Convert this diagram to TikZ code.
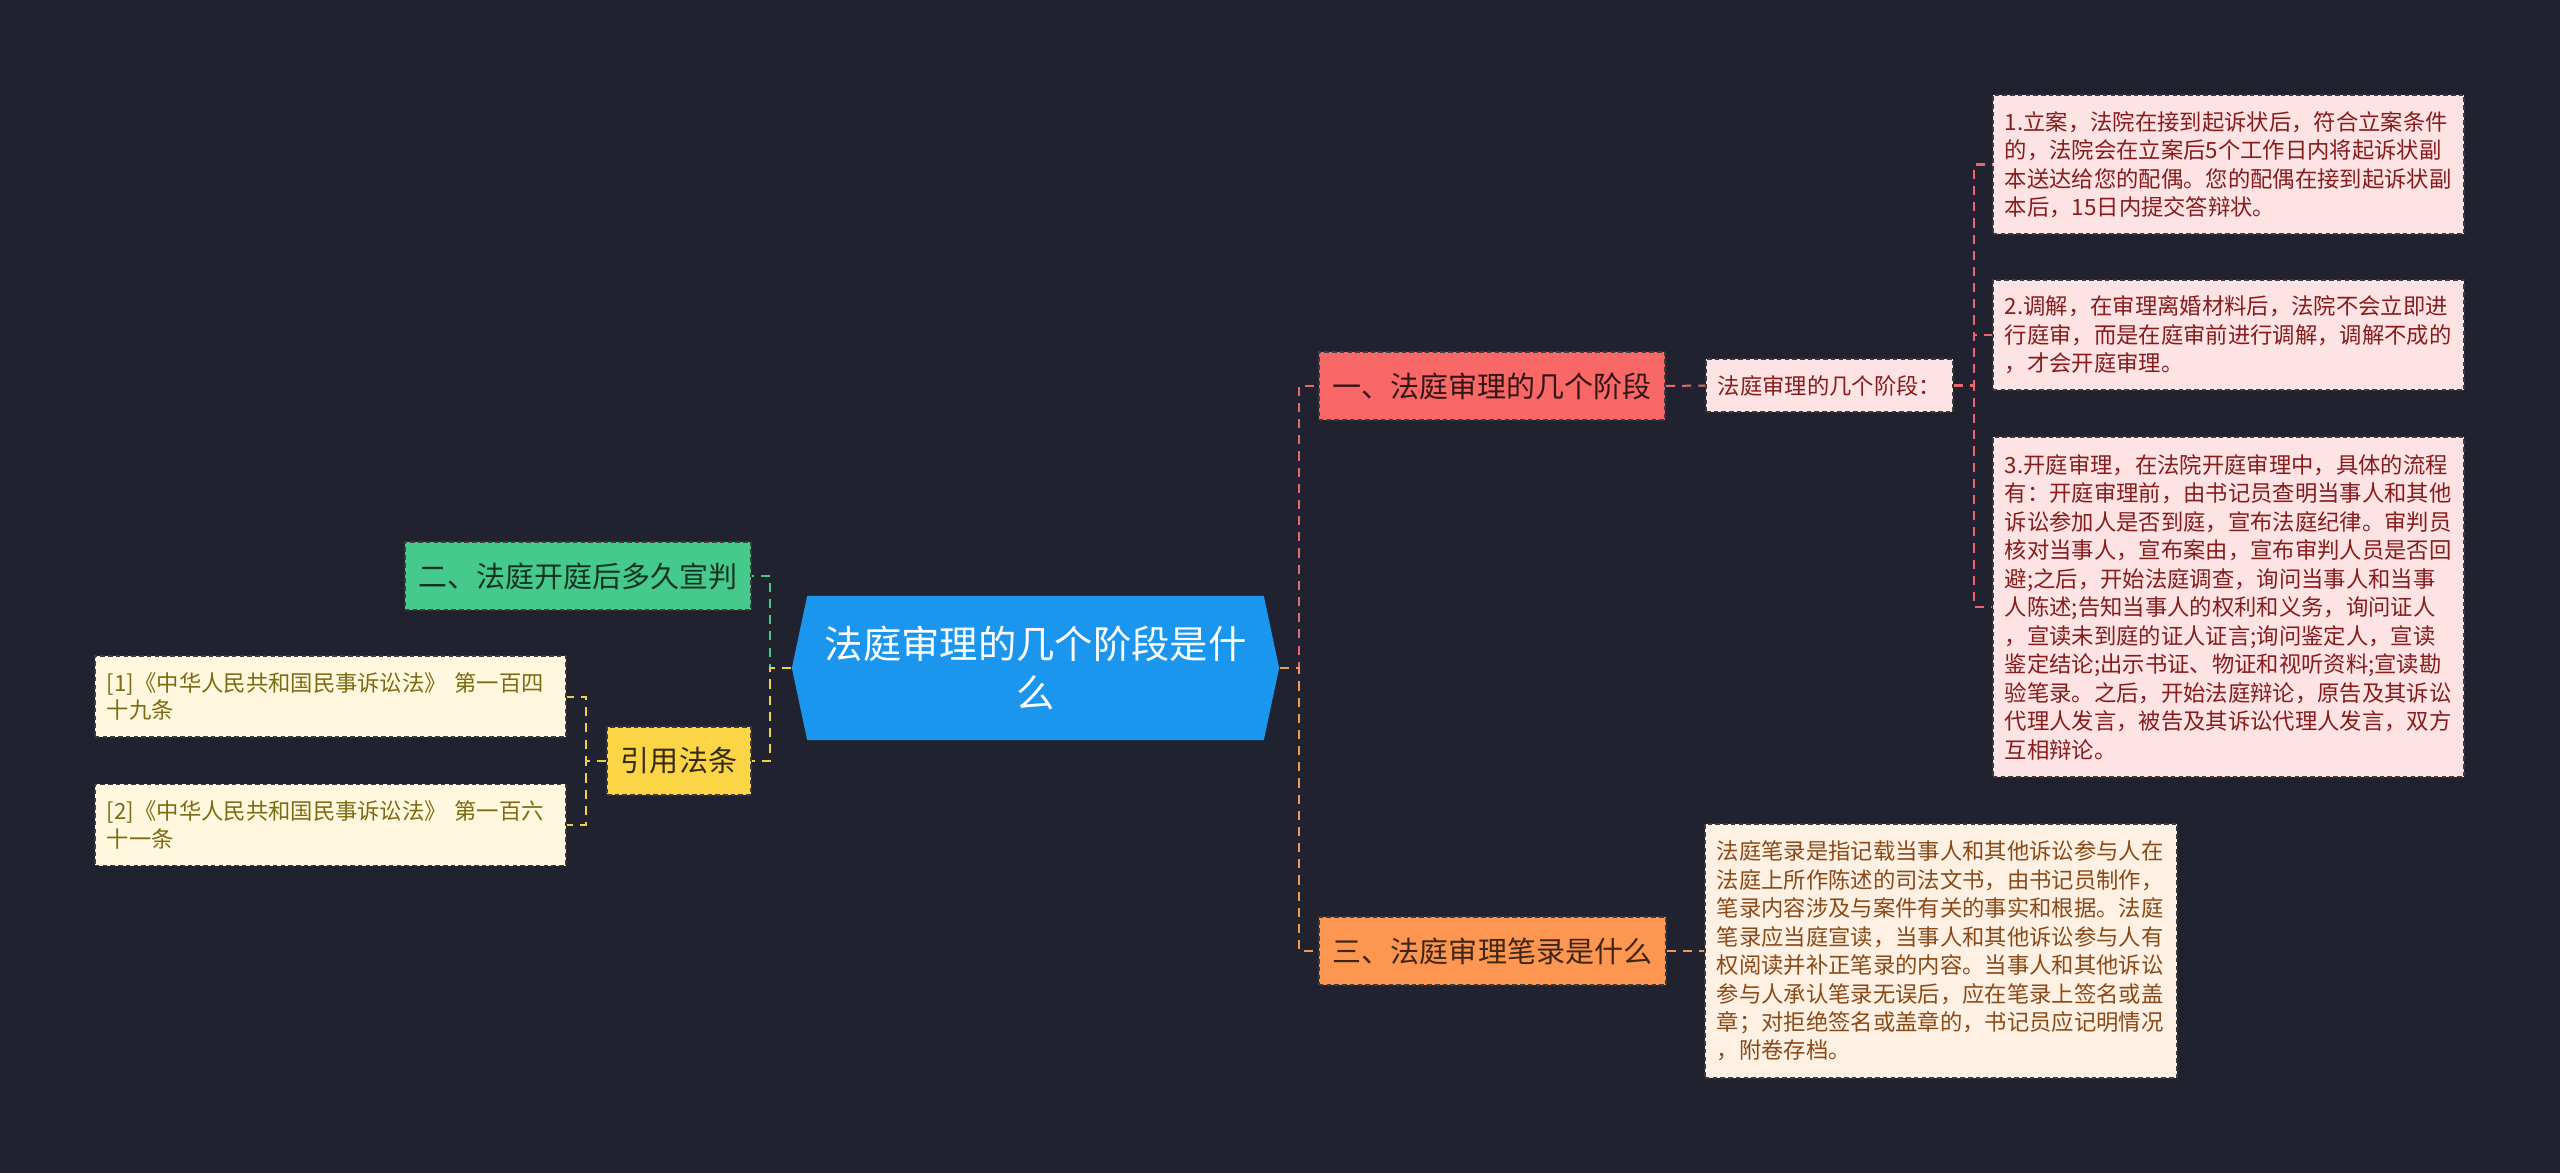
\documentclass[tikz,border=0pt]{standalone}
\usepackage{fontspec}
\setmainfont{Noto Sans CJK SC}
\usepackage{xcolor}
\usepackage{tikz}
\usetikzlibrary{positioning, shapes.symbols}

\definecolor{bgdark}{HTML}{20232F}
\definecolor{rootblue}{HTML}{1A96EE}
\definecolor{redfill}{HTML}{F96767}
\definecolor{redline}{HTML}{E7696B}
\definecolor{pinkfill}{HTML}{FDE3E3}
\definecolor{pinktext}{HTML}{861C1C}
\definecolor{orangefill}{HTML}{FD9650}
\definecolor{orangeline}{HTML}{F29A52}
\definecolor{peachfill}{HTML}{FEF0E3}
\definecolor{peachtext}{HTML}{8A4A18}
\definecolor{greenfill}{HTML}{46CA8C}
\definecolor{yellowfill}{HTML}{FCD547}
\definecolor{yellowline}{HTML}{F0CF45}
\definecolor{creamfill}{HTML}{FFF8DE}
\definecolor{creamtext}{HTML}{7D6A12}
\definecolor{boxedge}{HTML}{3A3A3A}

\begin{document}
\begin{tikzpicture}[x=0.01cm, y=-0.01cm,
    box/.style={draw=boxedge, dash pattern=on 1.3pt off 0.9pt, line width=0.45pt, inner ysep=0pt},
    topic/.style={box, minimum height=0.68cm, inner xsep=0.1cm, font=\fontsize{8.25}{10}\selectfont},
    leaf/.style={box, align=left, text width=4.47cm, inner xsep=0.12cm, font=\fontsize{6.35}{8.1}\selectfont},
    link/.style={line width=0.57pt, dash pattern=on 2.6pt off 2pt}]
    \fill[bgdark] (0,0) rectangle (2560,1173);
    \useasboundingbox (0,0) rectangle (2560,1173);

    \node[signal, signal to=west and east, signal pointer angle=156, fill=rootblue, text=white,
          minimum width=4.87cm, minimum height=1.44cm, inner sep=0pt, align=center,
          font=\fontsize{10.9}{14.2}\selectfont] (root) at (1035.5,668) {法庭审理的几个阶段是什\\么};

    % right side
    \node[topic, fill=redfill, text=black!80!redfill, minimum width=3.46cm] (t1) at (1492,386) {一、法庭审理的几个阶段};
    \node[box, fill=pinkfill, text=pinktext, minimum width=2.47cm, minimum height=0.53cm,
          font=\fontsize{6.35}{8.1}\selectfont] (t1a) at (1829.5,385.5) {法庭审理的几个阶段：};
    \node[leaf, fill=pinkfill, text=pinktext, minimum height=1.39cm] (s1) at (2228.5,164.5)
        {1.立案，法院在接到起诉状后，符合立案条件\\的，法院会在立案后5个工作日内将起诉状副\\本送达给您的配偶。您的配偶在接到起诉状副\\本后，15日内提交答辩状。};
    \node[leaf, fill=pinkfill, text=pinktext, minimum height=1.10cm] (s2) at (2228.5,335)
        {2.调解，在审理离婚材料后，法院不会立即进\\行庭审，而是在庭审前进行调解，调解不成的\\，才会开庭审理。};
    \node[leaf, fill=pinkfill, text=pinktext, minimum height=3.40cm] (s3) at (2228.5,607)
        {3.开庭审理，在法院开庭审理中，具体的流程\\有：开庭审理前，由书记员查明当事人和其他\\诉讼参加人是否到庭，宣布法庭纪律。审判员\\核对当事人，宣布案由，宣布审判人员是否回\\避;之后，开始法庭调查，询问当事人和当事\\人陈述;告知当事人的权利和义务，询问证人\\，宣读未到庭的证人证言;询问鉴定人，宣读\\鉴定结论;出示书证、物证和视听资料;宣读勘\\验笔录。之后，开始法庭辩论，原告及其诉讼\\代理人发言，被告及其诉讼代理人发言，双方\\互相辩论。};

    \node[topic, fill=orangefill, text=black!75!orangefill, minimum width=3.47cm] (t3) at (1492.5,951) {三、法庭审理笔录是什么};
    \node[leaf, fill=peachfill, text=peachtext, text width=4.48cm, minimum height=2.54cm] (t3a) at (1941,951)
        {法庭笔录是指记载当事人和其他诉讼参与人在\\法庭上所作陈述的司法文书，由书记员制作，\\笔录内容涉及与案件有关的事实和根据。法庭\\笔录应当庭宣读，当事人和其他诉讼参与人有\\权阅读并补正笔录的内容。当事人和其他诉讼\\参与人承认笔录无误后，应在笔录上签名或盖\\章；对拒绝签名或盖章的，书记员应记明情况\\，附卷存档。};

    % left side
    \node[topic, fill=greenfill, text=black!75!greenfill, minimum width=3.46cm] (t2) at (578,576) {二、法庭开庭后多久宣判};
    \node[topic, fill=yellowfill, text=black!80!yellowfill, minimum width=1.44cm] (law) at (679,761) {引用法条};
    \node[leaf, fill=creamfill, text=creamtext, minimum height=0.81cm, font=\fontsize{6.35}{7.9}\selectfont] (law1) at (330.5,696.5)
        {[1]《中华人民共和国民事诉讼法》 第一百四\\十九条};
    \node[leaf, fill=creamfill, text=creamtext, minimum height=0.81cm, font=\fontsize{6.35}{7.9}\selectfont] (law2) at (330.5,825)
        {[2]《中华人民共和国民事诉讼法》 第一百六\\十一条};

    \draw[link, redline] (root.east) -- ++(19,0) |- (t1.west);
    \draw[link, orangeline] (root.east) -- ++(19,0) |- (t3.west);
    \draw[link, redline] (t1.east) -- (t1a.west);
    \draw[link, redline] (t1a.east) -- ++(20,0) |- (s1.west);
    \draw[link, redline] (t1a.east) -- ++(20,0) |- (s2.west);
    \draw[link, redline] (t1a.east) -- ++(20,0) |- (s3.west);
    \draw[link, orangeline] (t3.east) -- (t3a.west);
    \draw[link, greenfill] (root.west) -- ++(-21,0) |- (t2.east);
    \draw[link, yellowline] (root.west) -- ++(-21,0) |- (law.east);
    \draw[link, yellowline] (law.west) -- ++(-20,0) |- (law1.east);
    \draw[link, yellowline] (law.west) -- ++(-20,0) |- (law2.east);
\end{tikzpicture}
\end{document}
